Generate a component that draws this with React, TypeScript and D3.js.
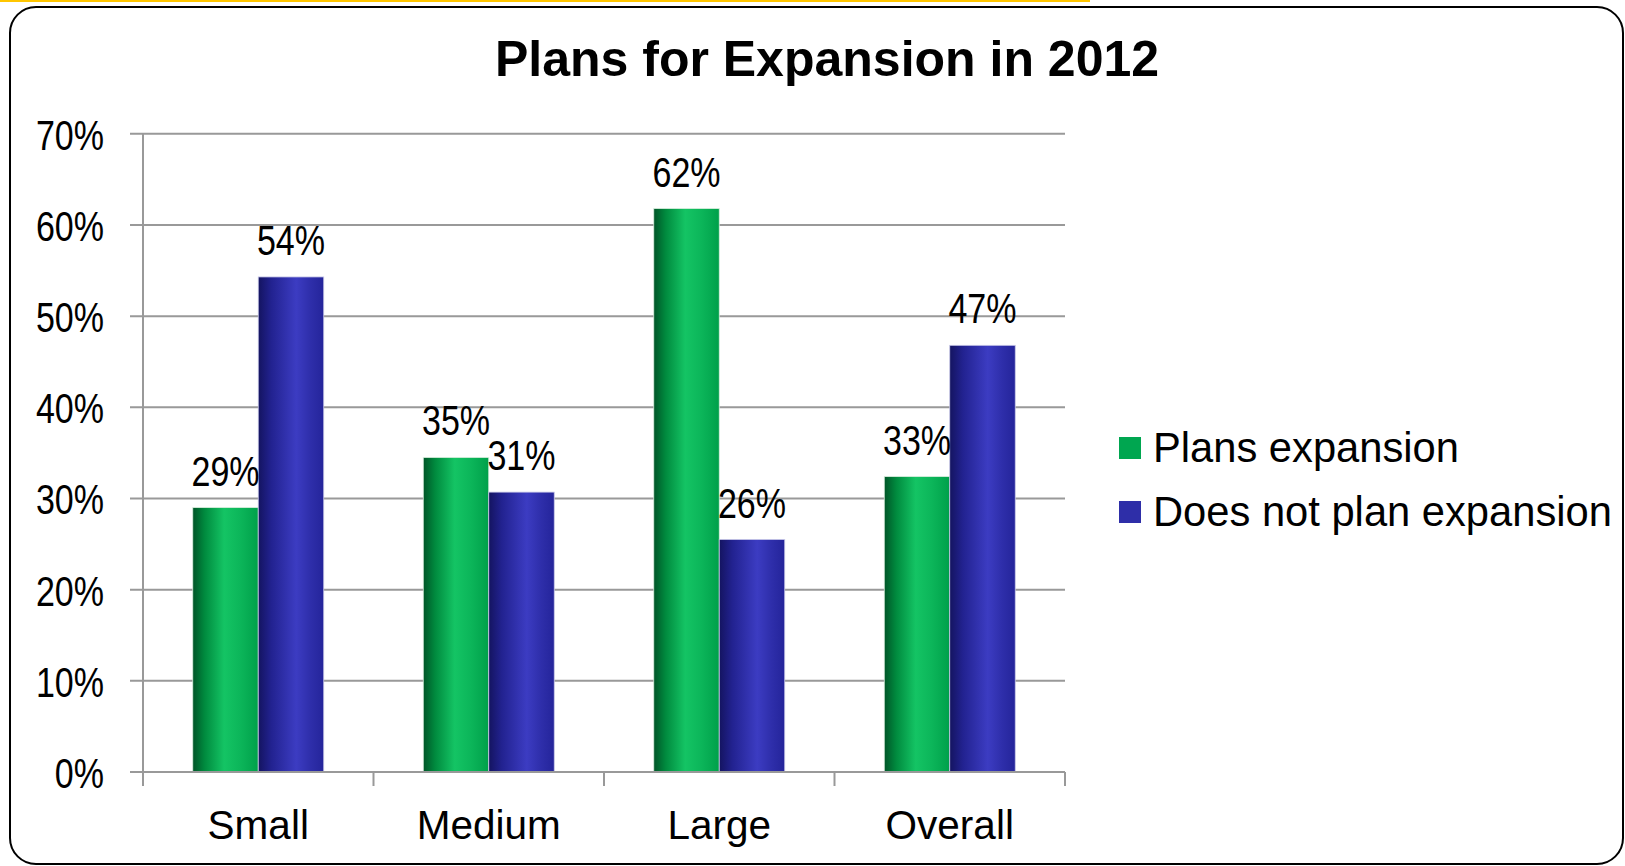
import React from "react";
import * as d3 from "d3";

const categories = ["Small", "Medium", "Large", "Overall"];
const seriesNames = ["Plans expansion", "Does not plan expansion"];
const plansValues = [29.0, 34.5, 61.8, 32.4];
const notPlansValues = [54.3, 30.7, 25.5, 46.8];
const plansLabels = ["29%", "35%", "62%", "33%"];
const notPlansLabels = ["54%", "31%", "26%", "47%"];
const yTicks = [0, 10, 20, 30, 40, 50, 60, 70];
const title = "Plans for Expansion in 2012";

const W = 1625;
const H = 866;
const FONT = "'Liberation Sans', Arial, Helvetica, sans-serif";

export default function App() {
  const plotLeft = 143;
  const plotRight = 1065;
  const plotBottom = 772;
  const plotTop = plotBottom - 70 * 9.117;

  const x = d3.scaleBand<string>().domain(categories).range([plotLeft, plotRight]).paddingInner(0).paddingOuter(0);
  const xInner = d3
    .scaleBand<number>()
    .domain([0, 1])
    .range([0, x.bandwidth()])
    .paddingInner(0)
    .paddingOuter(0.76);
  const y = d3.scaleLinear().domain([0, 70]).range([plotBottom, plotTop]);

  const series = [
    { name: seriesNames[0], values: plansValues, labels: plansLabels, grad: "gradGreen", legend: "#00a650" },
    { name: seriesNames[1], values: notPlansValues, labels: notPlansLabels, grad: "gradBlue", legend: "#2e2ea8" },
  ];

  const boundaries = [...categories.map((c) => x(c) as number), plotRight];

  return (
    <div style={{ position: "absolute", left: 0, top: 0 }}>
      <svg width={W} height={H} style={{ display: "block", background: "#fff" }}>
        <defs>
          <linearGradient id="gradGreen" x1="0" x2="1" y1="0" y2="0">
            <stop offset="0%" stopColor="#005528" />
            <stop offset="18%" stopColor="#008a3e" />
            <stop offset="48%" stopColor="#14c464" />
            <stop offset="72%" stopColor="#0cb65a" />
            <stop offset="100%" stopColor="#00a04a" />
          </linearGradient>
          <linearGradient id="gradBlue" x1="0" x2="1" y1="0" y2="0">
            <stop offset="0%" stopColor="#141460" />
            <stop offset="20%" stopColor="#222290" />
            <stop offset="58%" stopColor="#3c3cc2" />
            <stop offset="80%" stopColor="#2e2eaa" />
            <stop offset="100%" stopColor="#24249a" />
          </linearGradient>
        </defs>

        <rect x={0} y={0} width={1090} height={2} fill="#ffc600" />
        <rect x={10} y={7} width={1613} height={857} rx={26} ry={26} fill="#fff" stroke="#000" strokeWidth={2} />

        <text x={827} y={76} textAnchor="middle" fontFamily={FONT} fontWeight="bold" fontSize={50} fill="#000">
          {title}
        </text>

        {/* gridlines */}
        {yTicks.map((t) => (
          <line key={"g" + t} x1={plotLeft - 13} x2={plotRight} y1={y(t)} y2={y(t)} stroke="#999" strokeWidth={2} />
        ))}
        {/* y axis */}
        <line x1={plotLeft} x2={plotLeft} y1={plotTop} y2={plotBottom} stroke="#999" strokeWidth={2} />
        {/* category ticks */}
        {boundaries.map((b, i) => (
          <line key={"ct" + i} x1={b} x2={b} y1={plotBottom} y2={plotBottom + 14} stroke="#999" strokeWidth={2} />
        ))}

        {/* y tick labels */}
        {yTicks.map((t) => (
          <text
            key={"yl" + t}
            transform={`translate(104,${y(t) + 16}) scale(0.81,1)`}
            textAnchor="end"
            fontFamily={FONT}
            fontSize={42}
            fill="#000"
          >
            {t + "%"}
          </text>
        ))}

        {/* bars */}
        {series.map((s, si) =>
          categories.map((c, ci) => {
            const bx = (x(c) as number) + (xInner(si) as number);
            const by = y(s.values[ci]);
            return (
              <rect
                key={"b" + si + ci}
                x={bx}
                y={by}
                width={xInner.bandwidth()}
                height={plotBottom - by}
                fill={`url(#${s.grad})`}
                stroke={si === 0 ? "#d8eedd" : "#c8c8e8"}
                strokeWidth={0.8}
              />
            );
          })
        )}
        {/* bottom axis line */}
        <line x1={plotLeft - 13} x2={plotRight} y1={plotBottom} y2={plotBottom} stroke="#999" strokeWidth={2} />

        {/* value labels */}
        {series.map((s, si) =>
          categories.map((c, ci) => {
            const cx = (x(c) as number) + (xInner(si) as number) + xInner.bandwidth() / 2;
            const by = y(s.values[ci]);
            return (
              <text
                key={"vl" + si + ci}
                transform={`translate(${cx},${by - 22}) scale(0.81,1)`}
                textAnchor="middle"
                fontFamily={FONT}
                fontSize={42}
                fill="#000"
              >
                {s.labels[ci]}
              </text>
            );
          })
        )}

        {/* category labels */}
        {categories.map((c) => (
          <text
            key={"cl" + c}
            x={(x(c) as number) + x.bandwidth() / 2}
            y={839}
            textAnchor="middle"
            fontFamily={FONT}
            fontSize={40.5}
            fill="#000"
          >
            {c}
          </text>
        ))}

        {/* legend */}
        {series.map((s, si) => (
          <g key={"lg" + si} transform={`translate(1119,${437 + si * 64})`}>
            <rect x={0} y={0} width={22} height={22} fill={s.legend} />
            <text x={34} y={25} fontFamily={FONT} fontSize={41.7} fill="#000">
              {s.name}
            </text>
          </g>
        ))}
      </svg>
    </div>
  );
}
